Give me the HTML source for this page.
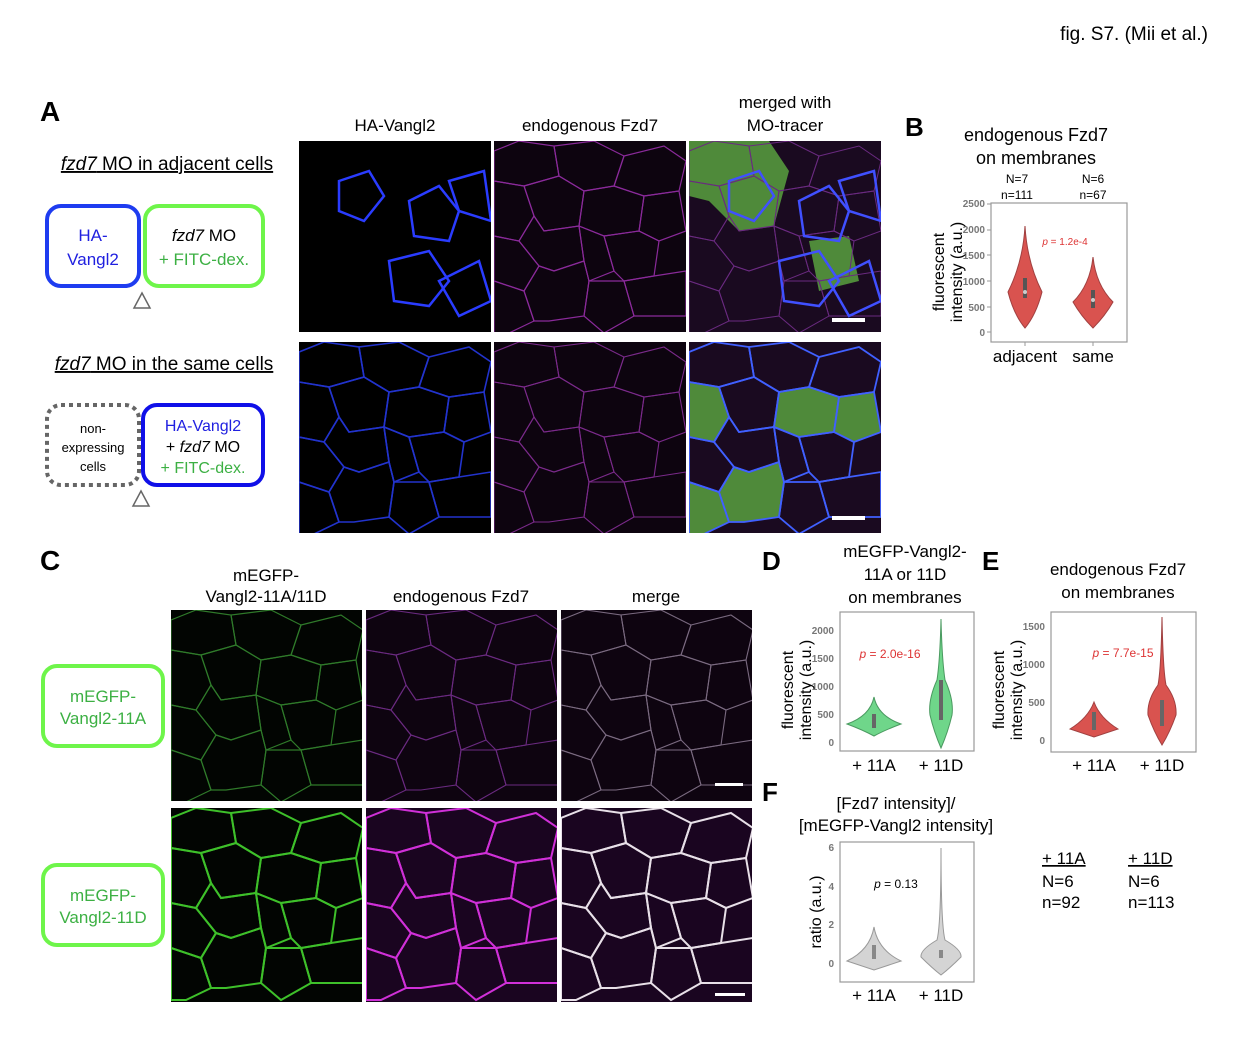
<!DOCTYPE html>
<html><head><meta charset="utf-8"><style>
html,body{margin:0;padding:0;background:#fff}
svg{display:block;font-family:"Liberation Sans",Arial,sans-serif}
</style></head><body>
<svg width="1236" height="1044" viewBox="0 0 1236 1044" xmlns="http://www.w3.org/2000/svg">
<defs>
<g id="cells" fill="none">
<polygon points="0,10 25,0 60,5 65,35 30,45 0,40"/>
<polygon points="65,35 60,5 100,0 130,15 120,45 90,50"/>
<polygon points="130,15 170,5 192,20 185,50 150,55 120,45"/>
<polygon points="0,40 30,45 40,75 25,100 0,95"/>
<polygon points="30,45 65,35 90,50 85,85 50,90 40,75"/>
<polygon points="90,50 120,45 150,55 145,90 110,95 85,85"/>
<polygon points="150,55 185,50 192,90 165,100 145,90"/>
<polygon points="0,95 25,100 45,125 30,150 0,140"/>
<polygon points="40,75 50,90 85,85 90,120 60,130 45,125 25,100"/>
<polygon points="85,85 110,95 120,130 95,140 90,120"/>
<polygon points="120,130 110,95 145,90 165,100 160,135 130,140"/>
<polygon points="0,140 30,150 40,180 15,192 0,192"/>
<polygon points="45,125 60,130 90,120 95,140 90,175 55,180 40,180 30,150"/>
<polygon points="95,140 130,140 140,175 110,192 90,175"/>
<polygon points="160,135 192,130 192,175 140,175 130,140"/>
</g>
<g id="sparse" fill="none">
<polygon points="40,40 70,30 85,55 65,80 40,70"/>
<polygon points="110,60 140,45 160,70 150,100 115,95"/>
<polygon points="150,40 185,30 192,80 160,70"/>
<polygon points="90,120 130,110 150,140 130,165 95,160"/>
<polygon points="140,140 180,120 192,160 160,175"/>
</g>
<g id="green">
<polygon points="0,0 80,0 100,30 85,85 50,90 20,60 0,55"/>
<polygon points="120,100 160,95 170,140 130,150"/>
</g>
<g id="green2">
<polygon points="0,40 30,45 40,75 25,100 0,95"/>
<polygon points="90,50 120,45 150,55 145,90 110,95 85,85"/>
<polygon points="45,125 60,130 90,120 95,140 90,175 55,180 40,180 30,150"/>
<polygon points="150,55 185,50 192,90 165,100 145,90"/>
<polygon points="0,140 30,150 40,180 15,192 0,192"/>
</g>
</defs>

<text x="1208" y="40" font-size="19" text-anchor="end">fig. S7. (Mii et al.)</text>

<!-- A -->
<text x="40" y="121" font-size="28" font-weight="bold">A</text>
<text x="167" y="170" font-size="19" text-anchor="middle" text-decoration="underline"><tspan font-style="italic">fzd7</tspan> MO in adjacent cells</text>
<rect x="47" y="206" width="92" height="80" rx="14" fill="none" stroke="#1e3cf0" stroke-width="4"/>
<rect x="145" y="206" width="118" height="80" rx="14" fill="none" stroke="#6ef54a" stroke-width="4"/>
<text x="93" y="241" font-size="17" fill="#2020e0" text-anchor="middle">HA-</text>
<text x="93" y="265" font-size="17" fill="#2020e0" text-anchor="middle">Vangl2</text>
<text x="204" y="241" font-size="17" text-anchor="middle"><tspan font-style="italic">fzd7</tspan> MO</text>
<text x="204" y="265" font-size="17" fill="#3cb043" text-anchor="middle">+ FITC-dex.</text>
<polygon points="142,293 134,308 150,308" fill="none" stroke="#666" stroke-width="1.5"/>

<text x="164" y="370" font-size="19" text-anchor="middle" text-decoration="underline"><tspan font-style="italic">fzd7</tspan> MO in the same cells</text>
<rect x="47" y="405" width="92" height="80" rx="14" fill="none" stroke="#666" stroke-width="4" stroke-dasharray="4,4"/>
<rect x="143" y="405" width="120" height="80" rx="14" fill="none" stroke="#1010e8" stroke-width="4"/>
<text x="93" y="433" font-size="13" text-anchor="middle">non-</text>
<text x="93" y="452" font-size="13" text-anchor="middle">expressing</text>
<text x="93" y="471" font-size="13" text-anchor="middle">cells</text>
<text x="203" y="431" font-size="16" fill="#2020e0" text-anchor="middle">HA-Vangl2</text>
<text x="203" y="452" font-size="16" text-anchor="middle">+ <tspan font-style="italic">fzd7</tspan> MO</text>
<text x="203" y="473" font-size="16" fill="#3cb043" text-anchor="middle">+ FITC-dex.</text>
<polygon points="141,491 133,506 149,506" fill="none" stroke="#666" stroke-width="1.5"/>

<text x="395" y="131" font-size="17" text-anchor="middle">HA-Vangl2</text>
<text x="590" y="131" font-size="17" text-anchor="middle">endogenous Fzd7</text>
<text x="785" y="108" font-size="17" text-anchor="middle">merged with</text>
<text x="785" y="131" font-size="17" text-anchor="middle">MO-tracer</text>

<svg x="299" y="141" width="192" height="191"><rect width="192" height="191" fill="#000"/><use href="#sparse" stroke="#2a3cff" stroke-width="2.5"/></svg>
<svg x="494" y="141" width="192" height="191"><rect width="192" height="191" fill="#0d040f"/><use href="#cells" stroke="#8a2a9a" stroke-width="1.2"/></svg>
<svg x="689" y="141" width="192" height="191"><rect width="192" height="191" fill="#1a0a20"/><use href="#green" fill="#4f8a3a"/><use href="#cells" stroke="#6a2a80" stroke-width="1"/><use href="#sparse" stroke="#4050ff" stroke-width="2.5"/><rect x="143" y="177" width="33" height="4" fill="#fff"/></svg>
<svg x="299" y="342" width="192" height="191"><rect width="192" height="191" fill="#000"/><use href="#cells" stroke="#2233cc" stroke-width="1.6"/></svg>
<svg x="494" y="342" width="192" height="191"><rect width="192" height="191" fill="#0d040f"/><use href="#cells" stroke="#7a2a8a" stroke-width="1.1"/></svg>
<svg x="689" y="342" width="192" height="191"><rect width="192" height="191" fill="#1a0a20"/><use href="#green2" fill="#4f8a3a"/><use href="#cells" stroke="#4060ff" stroke-width="1.8"/><rect x="143" y="174" width="33" height="4" fill="#fff"/></svg>

<!-- B -->
<text x="905" y="136" font-size="26" font-weight="bold">B</text>
<text x="1036" y="141" font-size="18" text-anchor="middle">endogenous Fzd7</text>
<text x="1036" y="164" font-size="18" text-anchor="middle">on membranes</text>
<text x="1017" y="183" font-size="12" text-anchor="middle">N=7</text>
<text x="1017" y="199" font-size="12" text-anchor="middle">n=111</text>
<text x="1093" y="183" font-size="12" text-anchor="middle">N=6</text>
<text x="1093" y="199" font-size="12" text-anchor="middle">n=67</text>
<rect x="991" y="203" width="136" height="139" fill="none" stroke="#999" stroke-width="1.2"/>
<g font-size="10" fill="#777" text-anchor="end" font-weight="bold">
<text x="985" y="207">2500</text><text x="985" y="233">2000</text><text x="985" y="259">1500</text><text x="985" y="285">1000</text><text x="985" y="311">500</text><text x="985" y="336">0</text></g>
<g stroke="#999"><line x1="987" x2="991" y1="204" y2="204"/><line x1="987" x2="991" y1="230" y2="230"/><line x1="987" x2="991" y1="255" y2="255"/><line x1="987" x2="991" y1="281" y2="281"/><line x1="987" x2="991" y1="307" y2="307"/><line x1="987" x2="991" y1="332" y2="332"/><line x1="1025" x2="1025" y1="342" y2="346"/><line x1="1093" x2="1093" y1="342" y2="346"/></g>
<text transform="translate(944,272) rotate(-90)" font-size="16" text-anchor="middle">fluorescent</text>
<text transform="translate(962,272) rotate(-90)" font-size="16" text-anchor="middle">intensity (a.u.)</text>
<path d="M1025,226 Q1027,262 1042,292 Q1036,315 1025,328 Q1014,315 1008,292 Q1023,262 1025,226Z" fill="#d9534f" stroke="#a04040"/>
<path d="M1093,257 Q1096,285 1113,302 Q1105,316 1093,328 Q1081,316 1073,302 Q1090,285 1093,257Z" fill="#d9534f" stroke="#a04040"/>
<rect x="1023" y="278" width="4" height="20" fill="#555"/><circle cx="1025" cy="292" r="2" fill="#ccc"/>
<rect x="1091" y="290" width="4" height="18" fill="#555"/><circle cx="1093" cy="300" r="2" fill="#ccc"/>
<text x="1065" y="245" font-size="10" fill="#d33" text-anchor="middle"><tspan font-style="italic">p</tspan> = 1.2e-4</text>
<text x="1025" y="362" font-size="17" text-anchor="middle">adjacent</text>
<text x="1093" y="362" font-size="17" text-anchor="middle">same</text>

<!-- C -->
<text x="40" y="570" font-size="28" font-weight="bold">C</text>
<text x="266" y="581" font-size="17" text-anchor="middle">mEGFP-</text>
<text x="266" y="602" font-size="17" text-anchor="middle">Vangl2-11A/11D</text>
<text x="461" y="602" font-size="17" text-anchor="middle">endogenous Fzd7</text>
<text x="656" y="602" font-size="17" text-anchor="middle">merge</text>
<rect x="43" y="666" width="120" height="80" rx="14" fill="none" stroke="#6ef54a" stroke-width="4"/>
<text x="103" y="702" font-size="17" fill="#3cb043" text-anchor="middle">mEGFP-</text>
<text x="103" y="724" font-size="17" fill="#3cb043" text-anchor="middle">Vangl2-11A</text>
<rect x="43" y="865" width="120" height="80" rx="14" fill="none" stroke="#6ef54a" stroke-width="4"/>
<text x="103" y="901" font-size="17" fill="#3cb043" text-anchor="middle">mEGFP-</text>
<text x="103" y="923" font-size="17" fill="#3cb043" text-anchor="middle">Vangl2-11D</text>

<svg x="171" y="610" width="191" height="191"><rect width="191" height="191" fill="#020502"/><use href="#cells" stroke="#2f7a2a" stroke-width="1.2"/></svg>
<svg x="366" y="610" width="191" height="191"><rect width="191" height="191" fill="#0e0410"/><use href="#cells" stroke="#6a2a80" stroke-width="1.1"/></svg>
<svg x="561" y="610" width="191" height="191"><rect width="191" height="191" fill="#0e0410"/><use href="#cells" stroke="#7a6a80" stroke-width="1.1"/><rect x="154" y="173" width="28" height="3" fill="#fff"/></svg>
<svg x="171" y="808" width="191" height="194"><rect width="191" height="194" fill="#020502"/><use href="#cells" stroke="#3ec02a" stroke-width="2"/></svg>
<svg x="366" y="808" width="191" height="194"><rect width="191" height="194" fill="#1a0520"/><use href="#cells" stroke="#d030d8" stroke-width="2"/></svg>
<svg x="561" y="808" width="191" height="194"><rect width="191" height="194" fill="#1a0520"/><use href="#cells" stroke="#e8e0e8" stroke-width="2"/><rect x="154" y="185" width="30" height="3" fill="#fff"/></svg>

<!-- D -->
<text x="762" y="570" font-size="26" font-weight="bold">D</text>
<text x="905" y="557" font-size="17" text-anchor="middle">mEGFP-Vangl2-</text>
<text x="905" y="580" font-size="17" text-anchor="middle">11A or 11D</text>
<text x="905" y="603" font-size="17" text-anchor="middle">on membranes</text>
<rect x="840" y="612" width="134" height="139" fill="none" stroke="#999" stroke-width="1.2"/>
<g font-size="10" fill="#777" text-anchor="end" font-weight="bold">
<text x="834" y="634">2000</text><text x="834" y="662">1500</text><text x="834" y="690">1000</text><text x="834" y="718">500</text><text x="834" y="746">0</text></g>
<text transform="translate(793,690) rotate(-90)" font-size="16" text-anchor="middle">fluorescent</text>
<text transform="translate(811,690) rotate(-90)" font-size="16" text-anchor="middle">intensity (a.u.)</text>
<path d="M874,697 Q878,716 901,724 Q885,730 874,736 Q863,730 847,724 Q870,716 874,697Z" fill="#6fd68a" stroke="#4a9a60"/>
<path d="M941,619 Q942,660 945,680 Q954,700 952,715 Q948,732 941,748 Q934,732 930,715 Q928,700 937,680 Q940,660 941,619Z" fill="#6fd68a" stroke="#4a9a60"/>
<rect x="872" y="714" width="4" height="14" fill="#666"/><rect x="939" y="680" width="4" height="40" fill="#666"/>
<text x="890" y="658" font-size="12" fill="#d33" text-anchor="middle"><tspan font-style="italic">p</tspan> = 2.0e-16</text>
<text x="874" y="771" font-size="17" text-anchor="middle">+ 11A</text>
<text x="941" y="771" font-size="17" text-anchor="middle">+ 11D</text>

<!-- E -->
<text x="982" y="570" font-size="26" font-weight="bold">E</text>
<text x="1118" y="575" font-size="17" text-anchor="middle">endogenous Fzd7</text>
<text x="1118" y="598" font-size="17" text-anchor="middle">on membranes</text>
<rect x="1051" y="612" width="145" height="140" fill="none" stroke="#999" stroke-width="1.2"/>
<g font-size="10" fill="#777" text-anchor="end" font-weight="bold">
<text x="1045" y="630">1500</text><text x="1045" y="668">1000</text><text x="1045" y="706">500</text><text x="1045" y="744">0</text></g>
<text transform="translate(1004,690) rotate(-90)" font-size="16" text-anchor="middle">fluorescent</text>
<text transform="translate(1022,690) rotate(-90)" font-size="16" text-anchor="middle">intensity (a.u.)</text>
<path d="M1094,702 Q1100,718 1118,729 Q1106,733 1094,737 Q1082,733 1070,729 Q1088,718 1094,702Z" fill="#d9534f" stroke="#a04040"/>
<path d="M1162,617 Q1163,670 1166,685 Q1177,700 1176,715 Q1170,732 1162,745 Q1154,732 1148,715 Q1147,700 1158,685 Q1161,670 1162,617Z" fill="#d9534f" stroke="#a04040"/>
<rect x="1092" y="712" width="4" height="18" fill="#666"/><rect x="1160" y="700" width="4" height="26" fill="#666"/>
<text x="1123" y="657" font-size="12" fill="#d33" text-anchor="middle"><tspan font-style="italic">p</tspan> = 7.7e-15</text>
<text x="1094" y="771" font-size="17" text-anchor="middle">+ 11A</text>
<text x="1162" y="771" font-size="17" text-anchor="middle">+ 11D</text>

<!-- F -->
<text x="762" y="801" font-size="26" font-weight="bold">F</text>
<text x="896" y="809" font-size="17" text-anchor="middle">[Fzd7 intensity]/</text>
<text x="896" y="831" font-size="17" text-anchor="middle">[mEGFP-Vangl2 intensity]</text>
<rect x="840" y="842" width="134" height="140" fill="none" stroke="#999" stroke-width="1.2"/>
<g font-size="10" fill="#777" text-anchor="end" font-weight="bold">
<text x="834" y="851">6</text><text x="834" y="890">4</text><text x="834" y="928">2</text><text x="834" y="967">0</text></g>
<text transform="translate(821,912) rotate(-90)" font-size="16" text-anchor="middle">ratio (a.u.)</text>
<path d="M874,927 Q878,950 901,961 Q886,966 874,970 Q862,966 847,961 Q870,950 874,927Z" fill="#d4d4d4" stroke="#999"/>
<path d="M941,848 Q941,925 945,940 Q962,950 961,957 Q950,968 941,975 Q932,968 921,957 Q920,950 937,940 Q941,925 941,848Z" fill="#d4d4d4" stroke="#999"/>
<rect x="872" y="945" width="4" height="14" fill="#888"/><rect x="939" y="950" width="4" height="8" fill="#888"/>
<text x="896" y="888" font-size="12" text-anchor="middle"><tspan font-style="italic">p</tspan> = 0.13</text>
<text x="874" y="1001" font-size="17" text-anchor="middle">+ 11A</text>
<text x="941" y="1001" font-size="17" text-anchor="middle">+ 11D</text>
<g font-size="17">
<text x="1042" y="864" text-decoration="underline">+ 11A</text>
<text x="1042" y="887">N=6</text>
<text x="1042" y="908">n=92</text>
<text x="1128" y="864" text-decoration="underline">+ 11D</text>
<text x="1128" y="887">N=6</text>
<text x="1128" y="908">n=113</text>
</g>
</svg>
</body></html>
